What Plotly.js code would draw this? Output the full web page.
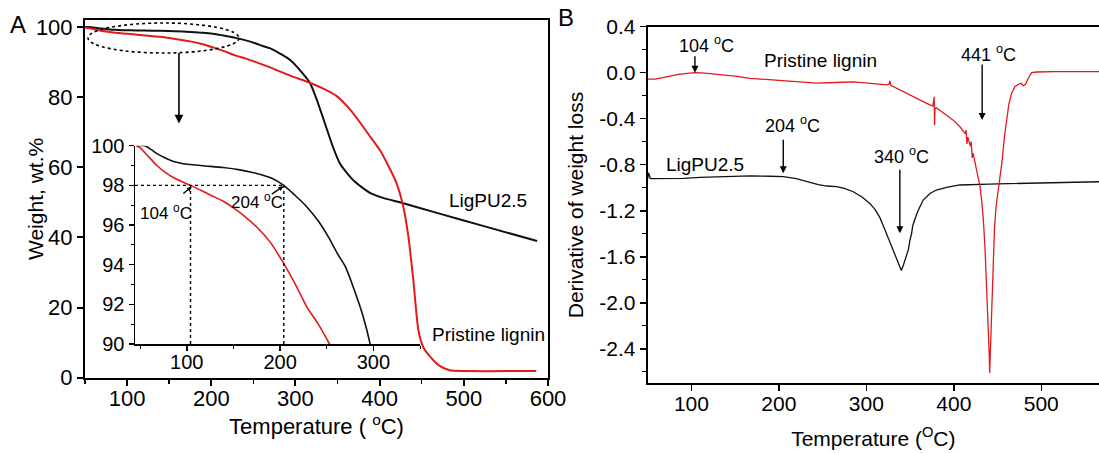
<!DOCTYPE html>
<html>
<head>
<meta charset="utf-8">
<script src="https://cdn.plot.ly/plotly-3.0.1.min.js"></script>
<style>html,body{margin:0;padding:0;background:#fff;}#chart{width:1099px;height:453px;}</style>
</head>
<body>
<div id="chart"></div>
<script>
// ---------- Panel A: TGA (weight %) ----------
const tgaTempLignin = [46, 50, 54, 60, 68, 77, 86, 95, 104, 115, 128, 139, 152, 163, 175, 190, 204, 216, 229, 241, 253, 266, 280, 295, 317, 335, 349, 363, 377, 390, 400, 410, 420, 428, 434, 440, 446, 452, 460, 470, 483, 500, 586];
const tgaLignin     = [100, 99.9, 99.7, 99.4, 99.0, 98.65, 98.38, 98.18, 98.0, 97.75, 97.45, 97.2, 96.8, 96.4, 95.9, 95.1, 94.05, 93.05, 91.85, 91.0, 90.0, 88.85, 87.5, 86.0, 84.1, 82.2, 80.3, 77.0, 72.7, 68.3, 65.0, 60.6, 55.5, 48.9, 40.5, 27.9, 13.6, 8.6, 6.0, 3.6, 2.1, 1.9, 1.9];

const tgaTempPU = [46, 55, 62, 68, 77, 86, 95, 104, 120, 139, 157, 175, 190, 204, 216, 229, 241, 253, 261, 270, 279, 289, 297, 305, 317, 325, 335, 345, 353, 361, 370, 388, 405, 426, 468, 527, 587];
const tgaPU     = [100, 100, 99.8, 99.6, 99.38, 99.2, 99.1, 99.05, 98.98, 98.9, 98.78, 98.6, 98.38, 98.0, 97.5, 96.9, 96.2, 95.3, 94.6, 93.9, 92.8, 91.4, 89.9, 87.8, 84.2, 79.5, 72.5, 65.5, 61.0, 58.4, 56.0, 52.8, 51.2, 49.9, 47.0, 43.0, 39.0];

// ---------- Panel B: DTG ----------
const dtgTempLignin = [50, 58, 66, 75, 85, 95, 104, 115, 130, 150, 167, 190, 215, 243, 265, 285, 305, 323, 326, 327, 328, 342, 354, 369, 376, 377.5, 378, 378.5, 380, 392, 399, 407, 413, 414, 415, 416, 419, 420, 421, 422, 426, 430, 432, 433.8, 435.8, 437.6, 439.3, 440.5, 441, 442, 443, 444, 445, 446.5, 448.5, 450.5, 452.6, 455, 458, 460.3, 463, 466, 470, 474.6, 477, 479.5, 482, 485, 489, 495, 514, 566];
const dtgLignin     = [-0.055, -0.055, -0.045, -0.03, -0.015, -0.005, 0.0, -0.003, -0.013, -0.03, -0.049, -0.062, -0.075, -0.09, -0.085, -0.08, -0.092, -0.105, -0.1, -0.07, -0.11, -0.165, -0.209, -0.266, -0.29, -0.21, -0.455, -0.31, -0.305, -0.368, -0.41, -0.47, -0.53, -0.5, -0.62, -0.56, -0.64, -0.6, -0.74, -0.7, -0.84, -0.99, -1.12, -1.28, -1.55, -1.85, -2.15, -2.45, -2.61, -2.35, -2.05, -1.8, -1.58, -1.35, -1.15, -1.03, -0.93, -0.78, -0.55, -0.41, -0.27, -0.18, -0.12, -0.098, -0.092, -0.115, -0.1, -0.05, 0.0, 0.006, 0.009, 0.009];

const dtgTempPU = [50, 51, 53, 70, 91, 110, 130, 150, 167, 190, 205, 220, 232, 245, 255, 266, 275, 285, 295, 304, 310, 315.5, 321, 327, 334, 338, 340, 342, 344, 346, 347, 348, 350, 351.7, 353, 355, 358, 361, 365, 372.7, 380, 393, 407, 440, 475.5, 520, 566];
const dtgPU     = [-0.92, -0.87, -0.92, -0.92, -0.918, -0.91, -0.903, -0.897, -0.896, -0.9, -0.904, -0.92, -0.948, -0.972, -0.985, -0.99, -1.005, -1.035, -1.08, -1.136, -1.19, -1.26, -1.36, -1.475, -1.6, -1.68, -1.72, -1.68, -1.63, -1.6, -1.56, -1.54, -1.45, -1.4, -1.33, -1.28, -1.22, -1.17, -1.107, -1.05, -1.02, -0.995, -0.976, -0.968, -0.962, -0.955, -0.948];

// tick labels
const dtgTickVals = [0.4, 0.0, -0.4, -0.8, -1.2, -1.6, -2.0, -2.4];
const dtgTickText = ['0.4', '0.0', '-0.4', '-0.8', '-1.2', '-1.6', '-2.0', '-2.4'];
const dtgMinorVals = [0.2, -0.2, -0.6, -1.0, -1.4, -1.8, -2.2, -2.6];

const RED = '#e3191c';
const BLK = '#111111';
const FONT = 'Liberation Sans, Arial, Helvetica, sans-serif';
const W = 1099, H = 453;
const px = v => v / W;
const py = v => 1 - v / H;

const traces = [
  {x: tgaTempPU, y: tgaPU, xaxis: 'x', yaxis: 'y', mode: 'lines', line: {color: BLK, width: 2, shape: 'spline', smoothing: 0.6}, name: 'LigPU2.5'},
  {x: tgaTempLignin, y: tgaLignin, xaxis: 'x', yaxis: 'y', mode: 'lines', line: {color: RED, width: 2, shape: 'spline', smoothing: 0.6}, name: 'Pristine lignin'},
  {x: tgaTempPU, y: tgaPU, xaxis: 'x2', yaxis: 'y2', mode: 'lines', line: {color: BLK, width: 1.6, shape: 'spline', smoothing: 0.6}, name: 'LigPU2.5 (inset)'},
  {x: tgaTempLignin, y: tgaLignin, xaxis: 'x2', yaxis: 'y2', mode: 'lines', line: {color: RED, width: 1.6, shape: 'spline', smoothing: 0.6}, name: 'Pristine lignin (inset)'},
  {x: dtgTempPU, y: dtgPU, xaxis: 'x3', yaxis: 'y3', mode: 'lines', line: {color: BLK, width: 1.3}, name: 'LigPU2.5 DTG'},
  {x: dtgTempLignin, y: dtgLignin, xaxis: 'x3', yaxis: 'y3', mode: 'lines', line: {color: RED, width: 1.3}, name: 'Pristine lignin DTG'}
];

const axBase = {showgrid: false, zeroline: false, showline: true, linecolor: '#000', ticks: 'outside', tickcolor: '#000', color: '#000'};

function label(text, x, y, size, extra) {
  return Object.assign({text: text, xref: 'paper', yref: 'paper', x: px(x), y: py(y), showarrow: false,
    xanchor: 'center', yanchor: 'middle', font: {size: size}}, extra || {});
}
function arrow(xref, yref, x, y, ax, ay, size) {
  return {text: '', xref: xref, yref: yref, x: x, y: y, ax: ax, ay: ay, showarrow: true,
    arrowhead: 2, arrowsize: size, arrowwidth: 1.4, arrowcolor: '#000'};
}

const layout = {
  width: W, height: H,
  margin: {l: 0, r: 0, t: 0, b: 0},
  paper_bgcolor: '#fff', plot_bgcolor: 'rgba(0,0,0,0)',
  showlegend: false,
  font: {family: FONT, color: '#000'},
  xaxis: Object.assign({}, axBase, {
    domain: [px(85), px(548)], anchor: 'y', range: [50, 600],
    tickmode: 'linear', tick0: 0, dtick: 100, ticklen: 6, tickwidth: 2, linewidth: 2, mirror: true,
    ticklabelstandoff: -6,
    minor: {ticks: 'outside', dtick: 50, tick0: 50, ticklen: 4, tickwidth: 1.5, showgrid: false},
    tickfont: {size: 22},
    title: {text: 'Temperature ( <sup>o</sup>C)', font: {size: 22}, standoff: 6}
  }),
  yaxis: Object.assign({}, axBase, {
    domain: [py(377.7), py(20)], anchor: 'x', range: [0, 102],
    tickmode: 'linear', tick0: 0, dtick: 20, ticklen: 6, tickwidth: 2, linewidth: 2, mirror: true,
    tickfont: {size: 22}
  }),
  xaxis2: Object.assign({}, axBase, {
    domain: [px(135), px(420)], anchor: 'y2', range: [44.5, 350],
    tickmode: 'linear', tick0: 0, dtick: 100, ticklen: 5, tickwidth: 1.5, linewidth: 1.5,
    ticklabelstandoff: -6,
    minor: {ticks: 'outside', dtick: 50, tick0: 50, ticklen: 3, tickwidth: 1, showgrid: false},
    tickfont: {size: 20}
  }),
  yaxis2: Object.assign({}, axBase, {
    domain: [py(344), py(145.7)], anchor: 'x2', range: [90, 100],
    tickmode: 'linear', tick0: 90, dtick: 2, ticklen: 5, tickwidth: 1.5, linewidth: 1.5,
    minor: {ticks: 'outside', dtick: 1, tick0: 90, ticklen: 3, tickwidth: 1, showgrid: false},
    tickfont: {size: 20}
  }),
  xaxis3: Object.assign({}, axBase, {
    domain: [px(647.7), 1], anchor: 'y3', range: [50, 566],
    tickmode: 'linear', tick0: 0, dtick: 100, ticklen: 6, tickwidth: 1.5, linewidth: 2, mirror: true,
    ticklabelstandoff: -6,
    tickfont: {size: 21},
    title: {text: 'Temperature (<sup>O</sup>C)', font: {size: 21}, standoff: 18}
  }),
  yaxis3: Object.assign({}, axBase, {
    domain: [py(383.3), py(26.7)], anchor: 'x3', range: [-2.7, 0.4],
    tickmode: 'array', tickvals: dtgTickVals, ticktext: dtgTickText, ticklen: 6, tickwidth: 1.5, linewidth: 2,
    minor: {ticks: 'outside', tickvals: dtgMinorVals, ticklen: 4, tickwidth: 1.2, showgrid: false},
    tickfont: {size: 21},
    title: {text: 'Derivative of weight loss', font: {size: 21}, standoff: 10}
  }),
  shapes: [
    // dotted ellipse around the zoomed region
    {type: 'circle', xref: 'paper', yref: 'paper', x0: px(88), x1: px(239), y0: py(53), y1: py(23),
     line: {color: '#000', width: 1.6, dash: 'dot'}},
    // inset guide lines
    {type: 'line', xref: 'x2', yref: 'y2', x0: 44.5, x1: 204, y0: 98, y1: 98, line: {color: '#000', width: 1.4, dash: 'dot'}},
    {type: 'line', xref: 'x2', yref: 'y2', x0: 104, x1: 104, y0: 90, y1: 98, line: {color: '#000', width: 1.4, dash: 'dot'}},
    {type: 'line', xref: 'x2', yref: 'y2', x0: 204, x1: 204, y0: 90, y1: 98, line: {color: '#000', width: 1.4, dash: 'dot'}}
  ],
  annotations: [
    label('A', 18, 25, 24),
    label('B', 566, 18, 24),
    label('Weight, wt.%', 35, 199, 21, {textangle: -90}),
    label('LigPU2.5', 488, 200.7, 19),
    label('Pristine lignin', 488, 334, 19),
    // arrow from ellipse down to inset
    Object.assign(arrow('x', 'y', 161.6, 72.5, 0, -72, 1.1), {arrowwidth: 1.6}),
    // inset labels
    label('104 <sup>o</sup>C', 166, 211.7, 17),
    label('204 <sup>o</sup>C', 257, 200.7, 17),
    arrow('x2', 'y2', 105.4, 97.93, -10, 8, 0.7),
    arrow('x2', 'y2', 203.5, 97.96, -13, 9, 0.7),
    // panel B labels
    label('104 <sup>o</sup>C', 706, 45, 18),
    arrow('x3', 'y3', 104, 0.0, 0, -18, 1),
    label('Pristine lignin', 820, 60, 19),
    label('204 <sup>o</sup>C', 792.5, 124, 18),
    arrow('x3', 'y3', 205, -0.875, 0, -35, 1),
    label('LigPU2.5', 705, 164, 19),
    label('340 <sup>o</sup>C', 901.7, 155, 18),
    arrow('x3', 'y3', 338.3, -1.396, 0, -65, 1),
    label('441 <sup>o</sup>C', 988, 53.3, 18),
    arrow('x3', 'y3', 432.4, -0.41, 0, -57, 1)
  ]
};

Plotly.newPlot('chart', traces, layout, {displayModeBar: false, staticPlot: true});
</script>
</body>
</html>
